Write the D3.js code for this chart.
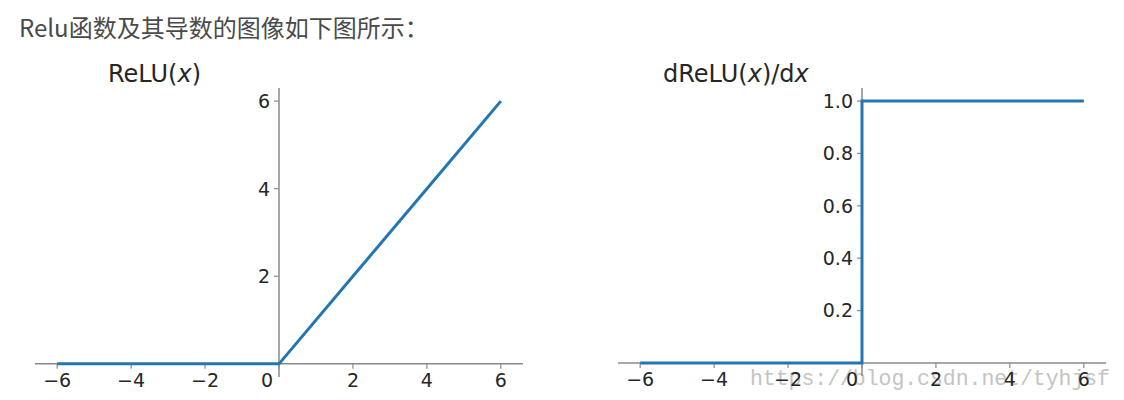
<!DOCTYPE html>
<html>
<head>
<meta charset="utf-8">
<script src="https://cdn.jsdelivr.net/npm/d3@7"></script>
<style>
  html, body { margin: 0; padding: 0; background: #fff; }
  svg { display: block; }
</style>
</head>
<body>
<svg id="chart" width="1124" height="400"></svg>
<script>
// ---- data ----
const headerText = "Relu函数及其导数的图像如下图所示：";
const watermarkText = "https://blog.csdn.net/tyhjsf";
const xValues = [-6, -4, -2, 0, 2, 4, 6];
const reluValues = [0, 0, 0, 0, 2, 4, 6];
const dReluValues = [0, 0, 0, 0, 1, 1, 1];
const xTicks = [-6, -4, -2, 0, 2, 4, 6];
const reluYTicks = [2, 4, 6];
const dReluYTicks = [0.2, 0.4, 0.6, 0.8, 1.0];

// ---- drawing ----
const svg = d3.select("#chart");
const lineColor = "#2476b3";
const spineColor = "#8a8a8a";
const tickFont = "DejaVu Sans";
const tickSize = 19;
const textColor = "#262626";

svg.append("text")
  .attr("x", 19).attr("y", 37)
  .attr("font-family", "'Noto Sans CJK SC', 'Noto Sans', sans-serif")
  .attr("font-size", 24)
  .attr("fill", "#4a4a4a")
  .text(headerText);

function panel(opts) {
  const g = svg.append("g");
  const x = d3.scaleLinear().domain([-6.6, 6.6]).range(opts.xRange);
  const y = d3.scaleLinear().domain(opts.yDomain).range([opts.yBottom, opts.yTop]);
  const x0 = x(0), y0 = y(0);

  // spines
  g.append("line").attr("x1", x.range()[0]).attr("x2", x.range()[1])
    .attr("y1", y0).attr("y2", y0).attr("stroke", spineColor).attr("stroke-width", 1.5);
  g.append("line").attr("x1", x0).attr("x2", x0)
    .attr("y1", y.range()[0]).attr("y2", y.range()[1]).attr("stroke", spineColor).attr("stroke-width", 1.5);

  // x ticks
  const xt = g.selectAll(".xt").data(xTicks).enter().append("g")
    .attr("transform", d => `translate(${x(d)},${y0})`);
  xt.append("line").attr("y1", 0).attr("y2", 5).attr("stroke", spineColor).attr("stroke-width", 1.2);
  xt.append("text")
    .attr("x", d => d === 0 ? -opts.zeroShift : 0)
    .attr("y", 23)
    .attr("text-anchor", "middle")
    .attr("font-family", tickFont).attr("font-size", tickSize).attr("fill", textColor)
    .text(d => d < 0 ? "\u2212" + Math.abs(d) : String(d));

  // y ticks
  const yt = g.selectAll(".yt").data(opts.yTicks).enter().append("g")
    .attr("transform", d => `translate(${x0},${y(d)})`);
  yt.append("line").attr("x1", 0).attr("x2", -5).attr("stroke", spineColor).attr("stroke-width", 1.2);
  yt.append("text")
    .attr("x", -9).attr("dy", "0.36em")
    .attr("text-anchor", "end")
    .attr("font-family", tickFont).attr("font-size", tickSize).attr("fill", textColor)
    .text(d => opts.fmt(d));

  // data line
  const pts = xValues.map((v, i) => [v, opts.values[i]]);
  g.append("path")
    .attr("d", d3.line().x(d => x(d[0])).y(d => y(d[1])).curve(opts.curve)(pts))
    .attr("fill", "none").attr("stroke", lineColor).attr("stroke-width", 3)
    .attr("stroke-linejoin", "miter");

  // title
  const t = g.append("text").attr("x", opts.titleX).attr("y", 82)
    .attr("font-family", tickFont).attr("font-size", 24).attr("fill", textColor);
  opts.title.forEach(([s, it]) => t.append("tspan").attr("font-style", it ? "italic" : "normal").text(s));
}

// watermark (underneath)
svg.append("text")
  .attr("x", 750).attr("y", 385)
  .attr("font-family", "'Liberation Mono', 'DejaVu Serif', serif")
  .attr("font-size", 21.5)
  .attr("fill", "#c4c4c4")
  .attr("textLength", 360)
  .text(watermarkText);

panel({
  xRange: [35, 523], yDomain: [-0.3, 6.3], yBottom: 377, yTop: 88,
  values: reluValues, yTicks: reluYTicks, fmt: d3.format("d"),
  curve: d3.curveLinear, zeroShift: 12, titleX: 108,
  title: [["ReLU(", false], ["x", true], [")", false]]
});

panel({
  xRange: [618, 1106], yDomain: [-0.05, 1.05], yBottom: 376, yTop: 88,
  values: dReluValues, yTicks: dReluYTicks, fmt: d3.format(".1f"),
  curve: d3.curveStepBefore, zeroShift: 10, titleX: 663,
  title: [["dReLU(", false], ["x", true], [")/d", false], ["x", true]]
});
</script>
</body>
</html>
